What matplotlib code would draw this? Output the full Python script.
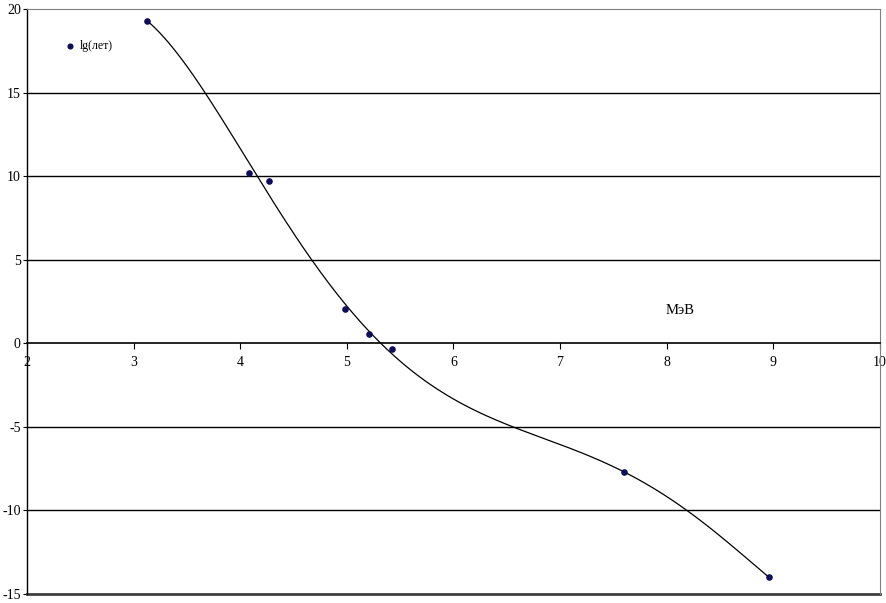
'''
Decay plot: lg(years) vs energy (MeV)
- scatter with polynomial trend line
'''
import matplotlib
matplotlib.use('Agg')
import matplotlib.pyplot as plt
import numpy as np

# energies (MeV) and lg(lifetime, years)
energy = [3.13, 4.08, 4.27, 4.98, 5.21, 5.42, 7.60, 8.96]
lg_years = [19.3, 10.2, 9.7, 2.05, 0.55, -0.35, -7.7, -14.0]
series_name = "lg(лет)"
unit_label = "МэВ"
x_ticks = [2, 3, 4, 5, 6, 7, 8, 9, 10]
y_ticks = [-15, -10, -5, 0, 5, 10, 15, 20]

plt.rcParams['font.family'] = ['Liberation Serif', 'DejaVu Serif']
plt.rcParams['axes.unicode_minus'] = False

fig = plt.figure(figsize=(8.86, 6.03), dpi=100)
ax = fig.add_axes([0.0305, 0.015, 0.9625, 0.970])

# trend line (polynomial fit over the data range)
coef = np.polyfit(energy, lg_years, 5)
xs = np.linspace(min(energy), max(energy), 300)
ax.plot(xs, np.polyval(coef, xs), color='black', lw=0.9, zorder=3)

ax.scatter(energy, lg_years, s=14, color='#0c0c5a', zorder=4, label=series_name)

ax.set_xlim(2, 10)
ax.set_ylim(-15, 20)
ax.set_xticks(x_ticks)
ax.set_yticks(y_ticks)

# gridlines
for y in y_ticks:
    if y in (-15, 0, 20):
        continue
    ax.axhline(y, color='black', lw=1.0, zorder=1)

ax.spines['bottom'].set_position(('data', 0))
ax.spines['bottom'].set_linewidth(1.2)
ax.spines['left'].set_linewidth(1.0)
ax.spines['right'].set_color('#808080')
ax.spines['top'].set_color('#808080')
ax.axhline(-15, color='#404040', lw=2.0, zorder=2, clip_on=False)

ax.tick_params(axis='x', direction='out', length=4, labelsize=10, pad=5)
ax.tick_params(axis='y', direction='out', length=3, labelsize=10, pad=1.5)

ax.text(8.13, 1.95, unit_label, fontsize=10.5, ha='center', va='center')

ax.legend(loc='upper left', bbox_to_anchor=(0.031, 0.965), frameon=False,
          fontsize=8.5, handletextpad=0.3, handlelength=1.0, markerscale=0.9)

plt.savefig('out.png', dpi=100)
